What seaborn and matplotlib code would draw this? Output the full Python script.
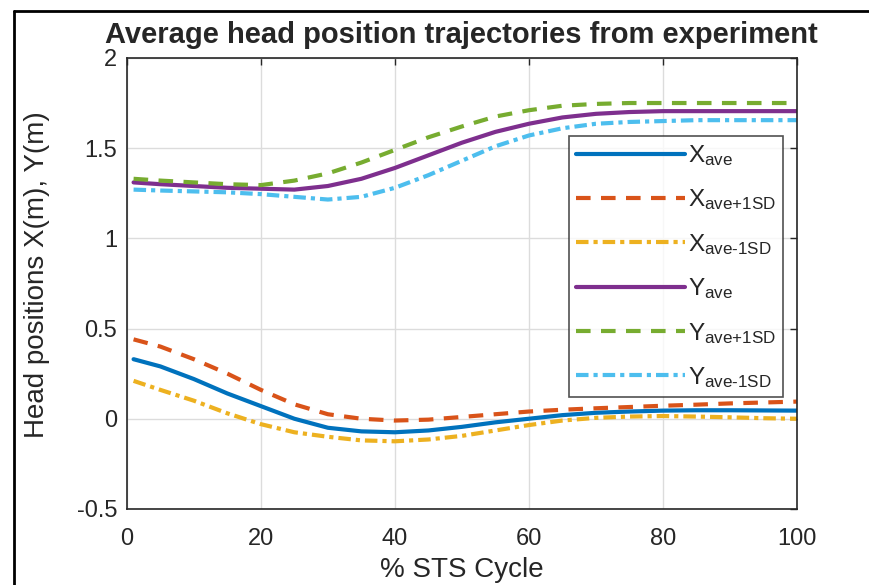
import numpy as np
import pandas as pd
import matplotlib
matplotlib.use("Agg")
import matplotlib.pyplot as plt
from matplotlib.lines import Line2D
import seaborn as sns

# ===================== data =====================
cycle = [1, 5, 10, 15, 20, 25, 30, 35, 40, 45, 50, 55, 60, 65, 70, 75, 80, 85, 90, 95, 100]

x_ave = [0.33, 0.29, 0.22, 0.14, 0.07, 0.0, -0.05, -0.07, -0.075, -0.065, -0.045, -0.02,
         0.0, 0.02, 0.033, 0.04, 0.045, 0.047, 0.047, 0.046, 0.045]
x_plus = [0.44, 0.40, 0.33, 0.25, 0.16, 0.08, 0.025, 0.0, -0.01, -0.005, 0.01, 0.025,
          0.04, 0.05, 0.058, 0.065, 0.072, 0.078, 0.085, 0.09, 0.095]
x_minus = [0.21, 0.16, 0.10, 0.03, -0.03, -0.075, -0.10, -0.12, -0.125, -0.115, -0.095, -0.065,
           -0.035, -0.01, 0.005, 0.012, 0.015, 0.012, 0.008, 0.003, 0.0]
y_ave = [1.31, 1.30, 1.29, 1.28, 1.275, 1.27, 1.29, 1.33, 1.39, 1.46, 1.53, 1.59,
         1.635, 1.67, 1.69, 1.70, 1.705, 1.705, 1.705, 1.705, 1.705]
y_plus = [1.33, 1.32, 1.31, 1.30, 1.295, 1.32, 1.36, 1.42, 1.49, 1.56, 1.62, 1.675,
          1.71, 1.735, 1.745, 1.75, 1.75, 1.75, 1.75, 1.75, 1.75]
y_minus = [1.27, 1.265, 1.26, 1.255, 1.245, 1.23, 1.215, 1.23, 1.28, 1.35, 1.43, 1.51,
           1.57, 1.61, 1.635, 1.645, 1.65, 1.655, 1.655, 1.655, 1.655]

labels = [r'X$_{\text{ave}}$', r'X$_{\text{ave+1SD}}$', r'X$_{\text{ave-1SD}}$',
          r'Y$_{\text{ave}}$', r'Y$_{\text{ave+1SD}}$', r'Y$_{\text{ave-1SD}}$']
colors = ['#0072BD', '#D95319', '#EDB120', '#7E2F8E', '#77AC30', '#4DBEEE']

# ===================== style =====================
sns.set_style('white')
plt.rcParams['font.family'] = ['Liberation Sans', 'DejaVu Sans']
plt.rcParams['mathtext.fontset'] = 'custom'
plt.rcParams['mathtext.rm'] = 'Liberation Sans'
plt.rcParams['mathtext.it'] = 'Liberation Sans'

dash = (0, (3.5, 2.5))
dashdot = (0, (3.0, 1.2, 1.0, 1.2))
styles = ['-', dash, dashdot, '-', dash, dashdot]
series = [x_ave, x_plus, x_minus, y_ave, y_plus, y_minus]

fig = plt.figure(figsize=(8.69, 5.85), dpi=100)
ax = fig.add_axes([0.146, 0.130, 0.771, 0.771])

for vals, lab, col, ls in zip(series, labels, colors, styles):
    df = pd.DataFrame({'cycle': cycle, 'pos': vals})
    sns.lineplot(data=df, x='cycle', y='pos', ax=ax, color=col, linestyle=ls,
                 linewidth=3.0, label=lab)

ax.set_xlim(0, 100)
ax.set_ylim(-0.5, 2)
ax.set_xticks([0, 20, 40, 60, 80, 100])
ax.set_yticks([-0.5, 0, 0.5, 1, 1.5, 2])
ax.set_yticklabels(['-0.5', '0', '0.5', '1', '1.5', '2'])
ax.grid(True, color='#dcdcdc', linewidth=1.0)
ax.tick_params(direction='in', length=5, width=1, colors='#262626', labelsize=17,
               top=True, right=True)
ax.tick_params(axis='x', pad=14)
ax.tick_params(axis='y', pad=7)
for s in ax.spines.values():
    s.set_color('#262626')
    s.set_linewidth(1.2)

ax.set_xlabel('% STS Cycle', fontsize=20, color='#262626', labelpad=5)
ax.set_ylabel('Head positions X(m), Y(m)', fontsize=20, color='#262626')
ax.yaxis.set_label_coords(-0.115, 0.52)
ax.set_title('Average head position trajectories from experiment', fontsize=21,
             fontweight='bold', pad=11)

leg = ax.legend(loc='upper right', bbox_to_anchor=(0.979, 0.827), fontsize=17.5,
                handlelength=4.5, handletextpad=0.1, labelspacing=0.8,
                borderpad=0.3, frameon=True, fancybox=False, borderaxespad=0)
leg.get_frame().set_edgecolor('#262626')
leg.get_frame().set_linewidth(1.2)

# outer frame of the screenshot
fx = 14 / 869
fy = 1 - 11 / 585
fig.add_artist(Line2D([fx, fx], [0, fy], transform=fig.transFigure, color='black', lw=2))
fig.add_artist(Line2D([fx, 1], [fy, fy], transform=fig.transFigure, color='black', lw=2))

plt.savefig('out.png', dpi=100, facecolor='white')
